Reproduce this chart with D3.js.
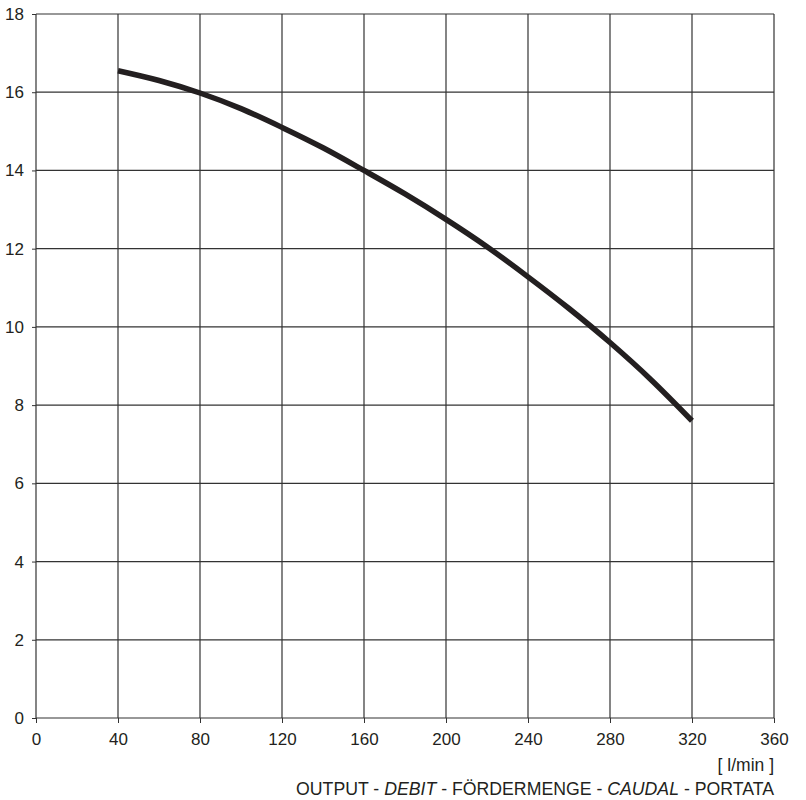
<!DOCTYPE html>
<html>
<head>
<meta charset="utf-8">
<script src="https://cdn.jsdelivr.net/npm/d3@7"></script>
<style>
  body { margin: 0; background: #fff; }
  text { font-family: "Liberation Sans", Arial, sans-serif; fill: #231f20; }
</style>
</head>
<body>
<div id="chart"></div>
<script>
const flow = [40, 60, 80, 100, 120, 140, 160, 180, 200, 220, 240, 260, 280, 300, 320];
const head = [16.55, 16.3, 15.98, 15.58, 15.1, 14.58, 14.0, 13.4, 12.75, 12.05, 11.28, 10.47, 9.6, 8.65, 7.6];
const xTicks = [0, 40, 80, 120, 160, 200, 240, 280, 320, 360];
const yTicks = [0, 2, 4, 6, 8, 10, 12, 14, 16, 18];

const margin = { top: 14, right: 32, bottom: 82, left: 36 };
const width = 806 - margin.left - margin.right;
const height = 800 - margin.top - margin.bottom;

const svg = d3.select("#chart")
  .append("svg")
  .attr("width", 806)
  .attr("height", 800)
  .append("g")
  .attr("transform", `translate(${margin.left},${margin.top})`);

const x = d3.scaleLinear().domain([0, 360]).range([0, width]);
const y = d3.scaleLinear().domain([0, 18]).range([height, 0]);

// grid
svg.append("g")
  .selectAll("line")
  .data(xTicks)
  .join("line")
  .attr("x1", d => x(d)).attr("x2", d => x(d))
  .attr("y1", 0).attr("y2", height)
  .attr("stroke", "#333").attr("stroke-width", 1.2);

svg.append("g")
  .selectAll("line")
  .data(yTicks)
  .join("line")
  .attr("x1", 0).attr("x2", width)
  .attr("y1", d => y(d)).attr("y2", d => y(d))
  .attr("stroke", "#333").attr("stroke-width", 1.2);

const xAxis = svg.append("g")
  .attr("transform", `translate(0,${height})`)
  .call(d3.axisBottom(x).tickValues(xTicks).tickSize(5).tickPadding(10));
xAxis.select(".domain").remove();
xAxis.selectAll("line").attr("stroke", "#333");
xAxis.selectAll("text").style("font-size", "17px").style("font-family", "Liberation Sans, Arial, sans-serif").attr("fill", "#231f20");

const yAxis = svg.append("g")
  .call(d3.axisLeft(y).tickValues(yTicks).tickSize(4).tickPadding(8));
yAxis.select(".domain").remove();
yAxis.selectAll("line").attr("stroke", "#333");
yAxis.selectAll("text").style("font-size", "17px").style("font-family", "Liberation Sans, Arial, sans-serif").attr("fill", "#231f20");

const line = d3.line()
  .x((d, i) => x(flow[i]))
  .y(d => y(d))
  .curve(d3.curveMonotoneX);

svg.append("path")
  .datum(head)
  .attr("fill", "none")
  .attr("stroke", "#231f20")
  .attr("stroke-width", 5.5)
  .attr("d", line);

svg.append("text")
  .attr("x", width)
  .attr("y", height + 53)
  .attr("text-anchor", "end")
  .style("font-size", "17.5px")
  .text("[ l/min ]");

const title = svg.append("text")
  .attr("x", width)
  .attr("y", height + 77)
  .attr("text-anchor", "end")
  .style("font-size", "17.7px");
title.append("tspan").text("OUTPUT - ");
title.append("tspan").style("font-style", "italic").text("DEBIT");
title.append("tspan").text(" - FÖRDERMENGE - ");
title.append("tspan").style("font-style", "italic").text("CAUDAL");
title.append("tspan").text(" - PORTATA");
</script>
</body>
</html>
